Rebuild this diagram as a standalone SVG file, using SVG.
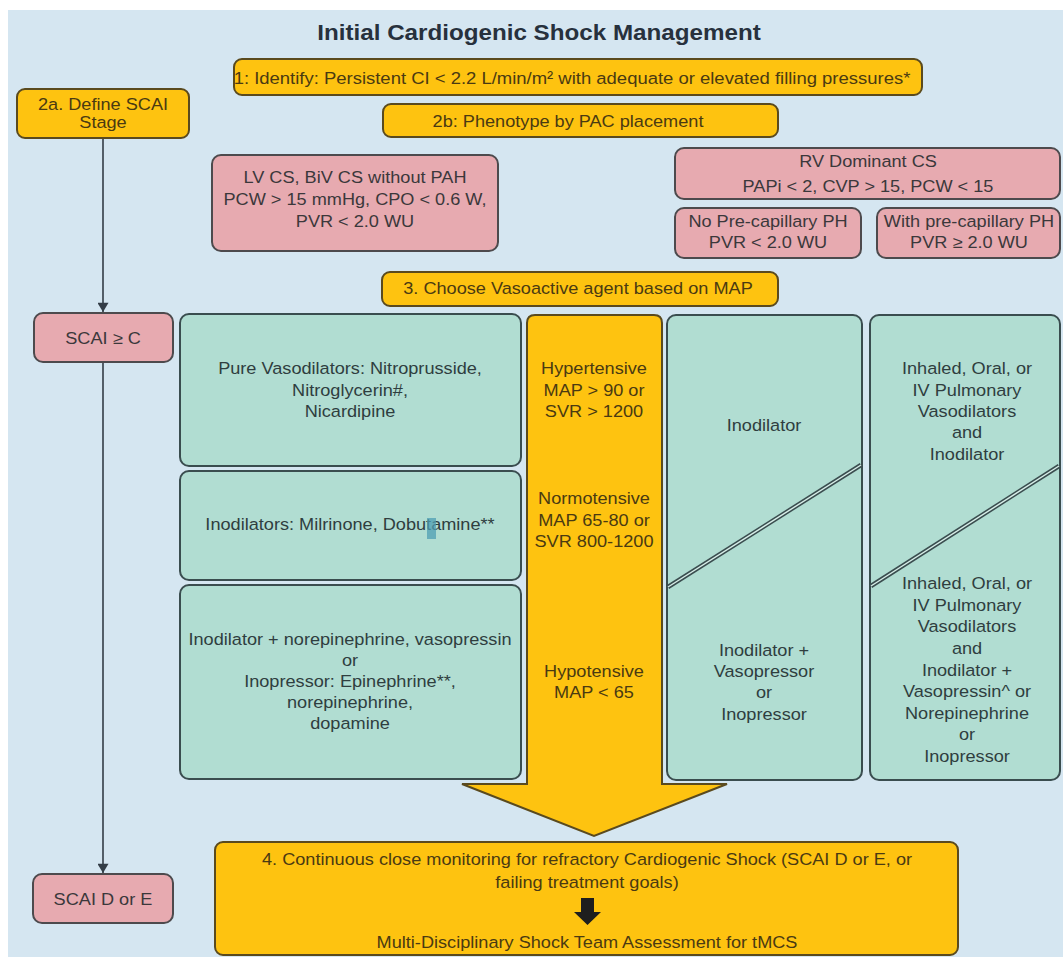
<svg xmlns="http://www.w3.org/2000/svg" width="1063" height="957" viewBox="0 0 1063 957">
<defs>
<style>
.t{font-family:"Liberation Sans",Arial,sans-serif;font-size:16.5px;text-anchor:middle}
.title{font-size:22px;font-weight:bold;fill:#27313d}
.to{fill:#4a3a12}
.tp{fill:#3b383b}
.tg{fill:#2f3e3f}
.bo{fill:#fec310;stroke:#5a4a1e;stroke-width:2}
.bp{fill:#e7aab0;stroke:#4d4a4d;stroke-width:2}
.bg{fill:#b1ddd2;stroke:#3a4d4f;stroke-width:2}
.conn{stroke:#333d47;stroke-width:1.6;fill:none}
.dl1{stroke:#3a4d4f;stroke-width:4.5;fill:none}
.dl2{stroke:#d8efe9;stroke-width:1.4;fill:none}
</style>
<marker id="ah" viewBox="0 0 10 12" refX="10" refY="6" markerWidth="12" markerHeight="11" markerUnits="userSpaceOnUse" orient="auto"><path d="M0,0 L10,6 L0,12 z" fill="#333d47"/></marker>
</defs>
<rect width="1063" height="957" fill="#ffffff"/>
<rect x="8" y="10" width="1055" height="947" fill="#d5e6f1"/>

<g id="title"><text class="t title" transform="translate(539 0) scale(1.1 1)" y="40">Initial Cardiogenic Shock Management</text></g>

<g id="connectors">
<line class="conn" x1="103" y1="138" x2="103" y2="312" marker-end="url(#ah)"/>
<line class="conn" x1="103" y1="362" x2="103" y2="873" marker-end="url(#ah)"/>
</g>

<g id="step1"><rect class="bo" x="234" y="59" width="688" height="36" rx="8"/>
<text class="t to" transform="translate(572 0) scale(1.1 1)" y="84" style="font-size:16.8px">1: Identify: Persistent CI &lt; 2.2 L/min/m² with adequate or elevated filling pressures*</text></g>

<g id="step2a"><rect class="bo" x="17" y="89" width="172" height="49" rx="8"/>
<text class="t to" transform="translate(103 0) scale(1.1 1)"><tspan x="0" y="110">2a. Define SCAI</tspan><tspan x="0" y="128">Stage</tspan></text></g>

<g id="step2b"><rect class="bo" x="383" y="104" width="395" height="33" rx="8"/>
<text class="t to" transform="translate(568 0) scale(1.1 1)" y="127">2b: Phenotype by PAC placement</text></g>

<g id="lvcs"><rect class="bp" x="212" y="155" width="286" height="96" rx="9"/>
<text class="t tp" transform="translate(355 0) scale(1.1 1)"><tspan x="0" y="183">LV CS, BiV CS without PAH</tspan><tspan x="0" y="205">PCW &gt; 15 mmHg, CPO &lt; 0.6 W,</tspan><tspan x="0" y="227">PVR &lt; 2.0 WU</tspan></text></g>

<g id="rvcs"><rect class="bp" x="675" y="148" width="385" height="51" rx="9"/>
<text class="t tp" transform="translate(868 0) scale(1.1 1)"><tspan x="0" y="167">RV Dominant CS</tspan><tspan x="0" y="192">PAPi &lt; 2, CVP &gt; 15, PCW &lt; 15</tspan></text></g>

<g id="noprecap"><rect class="bp" x="675" y="208" width="186" height="50" rx="9"/>
<text class="t tp" transform="translate(768 0) scale(1.1 1)"><tspan x="0" y="227">No Pre-capillary PH</tspan><tspan x="0" y="248">PVR &lt; 2.0 WU</tspan></text></g>

<g id="withprecap"><rect class="bp" x="877" y="208" width="183" height="50" rx="9"/>
<text class="t tp" transform="translate(969 0) scale(1.1 1)"><tspan x="0" y="227">With pre-capillary PH</tspan><tspan x="0" y="248">PVR ≥ 2.0 WU</tspan></text></g>

<g id="step3"><rect class="bo" x="382" y="272" width="396" height="34" rx="8"/>
<text class="t to" transform="translate(578 0) scale(1.1 1)" y="294">3. Choose Vasoactive agent based on MAP</text></g>

<g id="scaic"><rect class="bp" x="34" y="313" width="139" height="49" rx="9"/>
<text class="t tp" transform="translate(103 0) scale(1.1 1)" y="344">SCAI ≥ C</text></g>

<g id="scaide"><rect class="bp" x="33" y="874" width="140" height="49" rx="9"/>
<text class="t tp" transform="translate(103 0) scale(1.1 1)" y="905">SCAI D or E</text></g>

<g id="map-arrow"><path class="bo" d="M527,323 Q527,315 535,315 L654,315 Q662,315 662,323 L662,784 L727,784 L594,836 L462,784 L527,784 Z"/>
<text class="t to" transform="translate(594 0) scale(1.1 1)"><tspan x="0" y="374">Hypertensive</tspan><tspan x="0" y="396">MAP &gt; 90 or</tspan><tspan x="0" y="417">SVR &gt; 1200</tspan><tspan x="0" y="504">Normotensive</tspan><tspan x="0" y="526">MAP 65-80 or</tspan><tspan x="0" y="547">SVR 800-1200</tspan><tspan x="0" y="677">Hypotensive</tspan><tspan x="0" y="698">MAP &lt; 65</tspan></text></g>

<g id="lv-hyper"><rect class="bg" x="180" y="314" width="341" height="152" rx="9"/>
<text class="t tg" transform="translate(350 0) scale(1.1 1)"><tspan x="0" y="374">Pure Vasodilators: Nitroprusside,</tspan><tspan x="0" y="396">Nitroglycerin#,</tspan><tspan x="0" y="417">Nicardipine</tspan></text></g>

<g id="lv-normo"><rect class="bg" x="180" y="471" width="341" height="109" rx="9"/>
<text class="t tg" transform="translate(350 0) scale(1.1 1)" y="530">Inodilators: Milrinone, Dobutamine**</text>
<rect x="427" y="518" width="9" height="21" fill="#4f9db3" opacity="0.75"/></g>

<g id="lv-hypo"><rect class="bg" x="180" y="585" width="341" height="194" rx="9"/>
<text class="t tg" transform="translate(350 0) scale(1.1 1)"><tspan x="0" y="645">Inodilator + norepinephrine, vasopressin</tspan><tspan x="0" y="666">or</tspan><tspan x="0" y="687">Inopressor: Epinephrine**,</tspan><tspan x="0" y="708">norepinephrine,</tspan><tspan x="0" y="729">dopamine</tspan></text></g>

<g id="rv-noph"><rect class="bg" x="667" y="315" width="195" height="465" rx="9"/>
<line class="dl1" x1="668" y1="587" x2="861" y2="465"/><line class="dl2" x1="668" y1="587" x2="861" y2="465"/>
<text class="t tg" transform="translate(764 0) scale(1.1 1)"><tspan x="0" y="431">Inodilator</tspan><tspan x="0" y="656">Inodilator +</tspan><tspan x="0" y="677">Vasopressor</tspan><tspan x="0" y="698">or</tspan><tspan x="0" y="720">Inopressor</tspan></text></g>

<g id="rv-ph"><rect class="bg" x="870" y="315" width="190" height="465" rx="9"/>
<line class="dl1" x1="871" y1="586" x2="1059" y2="466"/><line class="dl2" x1="871" y1="586" x2="1059" y2="466"/>
<text class="t tg" transform="translate(967 0) scale(1.1 1)"><tspan x="0" y="374">Inhaled, Oral, or</tspan><tspan x="0" y="396">IV Pulmonary</tspan><tspan x="0" y="417">Vasodilators</tspan><tspan x="0" y="438">and</tspan><tspan x="0" y="460">Inodilator</tspan><tspan x="0" y="589">Inhaled, Oral, or</tspan><tspan x="0" y="611">IV Pulmonary</tspan><tspan x="0" y="632">Vasodilators</tspan><tspan x="0" y="654">and</tspan><tspan x="0" y="676">Inodilator +</tspan><tspan x="0" y="697">Vasopressin^ or</tspan><tspan x="0" y="719">Norepinephrine</tspan><tspan x="0" y="740">or</tspan><tspan x="0" y="762">Inopressor</tspan></text></g>

<g id="step4"><rect class="bo" x="215" y="842" width="743" height="113" rx="8"/>
<text class="t to" transform="translate(587 0) scale(1.1 1)"><tspan x="0" y="865">4. Continuous close monitoring for refractory Cardiogenic Shock (SCAI D or E, or</tspan><tspan x="0" y="888">failing treatment goals)</tspan><tspan x="0" y="948">Multi-Disciplinary Shock Team Assessment for tMCS</tspan></text>
<path d="M581,898 L594,898 L594,912 L601,912 L587.5,925 L574,912 L581,912 Z" fill="#1e1e1e"/></g>
</svg>
